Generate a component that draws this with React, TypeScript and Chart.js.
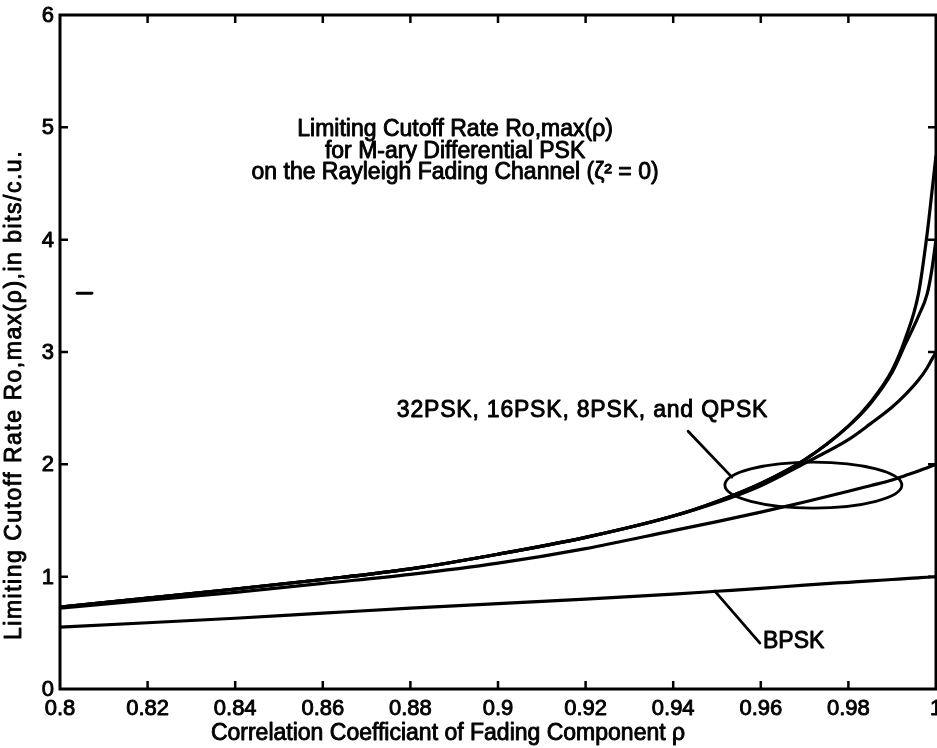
import React, { useEffect, useRef } from "react";
import { Chart, registerables } from "chart.js";

Chart.register(...registerables);

// ---------------- data ----------------
const rho = [0.8, 0.82, 0.84, 0.86, 0.88, 0.9, 0.92, 0.94, 0.95, 0.96, 0.97, 0.98, 0.985, 0.99, 0.993, 0.996, 0.998, 0.999, 1.0];

const bpsk = [0.55, 0.59, 0.63, 0.675, 0.72, 0.76, 0.8, 0.845, 0.87, 0.895, 0.925, 0.95, 0.962, 0.975, 0.982, 0.99, 0.995, 0.997, 1.0];
const qpsk = [0.72, 0.79, 0.86, 0.94, 1.02, 1.12, 1.25, 1.41, 1.49, 1.575, 1.665, 1.76, 1.81, 1.86, 1.9, 1.94, 1.97, 1.985, 2.0];
const psk8 = [0.73, 0.81, 0.89, 0.975, 1.07, 1.2, 1.35, 1.54, 1.66, 1.81, 2.01, 2.22, 2.36, 2.51, 2.62, 2.75, 2.86, 2.93, 3.0];
const psk16 = [0.73, 0.81, 0.89, 0.975, 1.07, 1.2, 1.35, 1.54, 1.67, 1.83, 2.04, 2.34, 2.54, 2.82, 3.07, 3.32, 3.52, 3.72, 4.0];
const psk32 = [0.73, 0.81, 0.89, 0.975, 1.07, 1.2, 1.35, 1.54, 1.67, 1.83, 2.04, 2.34, 2.55, 2.84, 3.12, 3.52, 4.06, 4.4, 4.75];

const xTickValues = [0.8, 0.82, 0.84, 0.86, 0.88, 0.9, 0.92, 0.94, 0.96, 0.98, 1.0];
const xTickLabels = ["0.8", "0.82", "0.84", "0.86", "0.88", "0.9", "0.92", "0.94", "0.96", "0.98", "1"];
const yTickValues = [0, 1, 2, 3, 4, 5, 6];
const yTickLabels = ["0", "1", "2", "3", "4", "5", "6"];

const titleLines = ["Limiting Cutoff Rate Ro,max(\u03C1)", "for M-ary Differential PSK", "on the Rayleigh Fading Channel (\u03B6\u00B2 = 0)"];
const xTitle = "Correlation Coefficiant of Fading Component \u03C1";
const yTitle = "Limiting Cutoff Rate Ro,max(\u03C1),in bits/c.u.";
const groupLabel = "32PSK, 16PSK, 8PSK, and QPSK";
const bpskLabel = "BPSK";

// annotation anchors (data units)
const ellipseCenter = { x: 0.972, y: 1.815 };
const ellipseRadius = { x: 0.0202, y: 0.205 };
const groupPointer = [{ x: 0.9434, y: 2.295 }, { x: 0.9534, y: 1.886 }];
const bpskPointer = [{ x: 0.9495, y: 0.872 }, { x: 0.9598, y: 0.409 }];
const strayMark = [{ x: 0.8039, y: 3.523 }, { x: 0.8073, y: 3.523 }];
const groupLabelAnchor = { x: 0.9617, y: 2.42 };
const bpskLabelAnchor = { x: 0.9605, y: 0.365 };
const titleAnchor = { x: 0.8902, y: 4.92 };

const FONT = '"Liberation Sans", Arial, Helvetica, sans-serif';

function series(vals: number[]) {
  return rho.map((r, i) => ({ x: r, y: vals[i] }));
}

function txt(ctx: CanvasRenderingContext2D, s: string, x: number, y: number, spacing = 0) {
  (ctx as any).letterSpacing = spacing + "px";
  ctx.fillText(s, x, y);
  ctx.lineWidth = 0.9;
  ctx.lineJoin = "round";
  ctx.strokeText(s, x, y);
  (ctx as any).letterSpacing = "0px";
}

const decor = {
  id: "decor",
  afterDatasetsDraw(chart: any) {
    const { ctx, chartArea: a } = chart;
    const xs = chart.scales.x;
    const ys = chart.scales.y;
    const px = (v: number) => xs.getPixelForValue(v);
    const py = (v: number) => ys.getPixelForValue(v);
    ctx.save();
    ctx.strokeStyle = "#000";
    ctx.fillStyle = "#000";
    ctx.lineCap = "round";

    // ellipse
    ctx.lineWidth = 2.8;
    ctx.beginPath();
    const cx = px(ellipseCenter.x);
    const cy = py(ellipseCenter.y);
    const rx = Math.abs(px(ellipseCenter.x + ellipseRadius.x) - cx);
    const ry = Math.abs(py(ellipseCenter.y + ellipseRadius.y) - cy);
    ctx.ellipse(cx, cy, rx, ry, 0, 0, Math.PI * 2);
    ctx.stroke();

    // pointers
    for (const seg of [groupPointer, bpskPointer, strayMark]) {
      ctx.beginPath();
      ctx.moveTo(px(seg[0].x), py(seg[0].y));
      ctx.lineTo(px(seg[1].x), py(seg[1].y));
      ctx.stroke();
    }

    // box
    ctx.lineCap = "square";
    ctx.lineWidth = 3;
    ctx.strokeRect(a.left, a.top, a.right - a.left, a.bottom - a.top);

    // ticks (inward, all four sides)
    const tl = 8;
    ctx.lineWidth = 2.5;
    ctx.lineCap = "butt";
    xs.ticks.forEach((t: any) => {
      const x = px(t.value);
      if (x <= a.left + 1 || x >= a.right - 1) return;
      ctx.beginPath();
      ctx.moveTo(x, a.bottom);
      ctx.lineTo(x, a.bottom - tl);
      ctx.moveTo(x, a.top);
      ctx.lineTo(x, a.top + tl);
      ctx.stroke();
    });
    ys.ticks.forEach((t: any) => {
      const y = py(t.value);
      if (y <= a.top + 1 || y >= a.bottom - 1) return;
      ctx.beginPath();
      ctx.moveTo(a.left, y);
      ctx.lineTo(a.left + tl, y);
      ctx.moveTo(a.right, y);
      ctx.lineTo(a.right - tl, y);
      ctx.stroke();
    });

    // tick labels
    ctx.font = `22px ${FONT}`;
    ctx.textAlign = "center";
    ctx.textBaseline = "alphabetic";
    xs.ticks.forEach((t: any, i: number) => {
      txt(ctx, xTickLabels[i] ?? String(t.value), px(t.value), a.bottom + 26);
    });
    ctx.textAlign = "right";
    ctx.textBaseline = "middle";
    ys.ticks.forEach((t: any, i: number) => {
      txt(ctx, yTickLabels[i] ?? String(t.value), a.left - 6, py(t.value) + 1);
    });

    // axis titles
    ctx.font = `23px ${FONT}`;
    ctx.textAlign = "center";
    ctx.textBaseline = "alphabetic";
    txt(ctx, xTitle, 448, a.bottom + 51);
    ctx.save();
    ctx.translate(21, 395);
    ctx.rotate(-Math.PI / 2);
    txt(ctx, yTitle, 0, 0, 1.5);
    ctx.restore();

    // plot title
    ctx.textAlign = "center";
    const tx = px(titleAnchor.x);
    const ty = py(titleAnchor.y);
    titleLines.forEach((s, i) => txt(ctx, s, tx, ty + i * 21.5));

    // curve labels
    ctx.textAlign = "right";
    txt(ctx, groupLabel, px(groupLabelAnchor.x), py(groupLabelAnchor.y), 0.8);
    ctx.textAlign = "left";
    txt(ctx, bpskLabel, px(bpskLabelAnchor.x), py(bpskLabelAnchor.y));

    ctx.restore();
  },
};

export default function App() {
  const ref = useRef<HTMLCanvasElement>(null);
  useEffect(() => {
    if (!ref.current) return;
    const mk = (label: string, vals: number[]) => ({
      label,
      data: series(vals),
      borderColor: "#000",
      backgroundColor: "#000",
      borderWidth: 3.2,
      pointRadius: 0,
      fill: false,
      cubicInterpolationMode: "monotone" as const,
    });
    const chart = new Chart(ref.current, {
      type: "line",
      data: {
        datasets: [
          mk("BPSK", bpsk),
          mk("QPSK", qpsk),
          mk("8PSK", psk8),
          mk("16PSK", psk16),
          mk("32PSK", psk32),
        ],
      },
      options: {
        responsive: false,
        animation: false,
        devicePixelRatio: 1,
        layout: { padding: { left: 60, top: 15, right: 1, bottom: 59 } },
        plugins: { legend: { display: false }, tooltip: { enabled: false }, title: { display: false } },
        scales: {
          x: {
            type: "linear",
            display: false,
            min: 0.8,
            max: 1.0,
            afterBuildTicks: (s: any) => {
              s.ticks = xTickValues.map((v) => ({ value: v }));
            },
          },
          y: {
            type: "linear",
            display: false,
            min: 0,
            max: 6,
            afterBuildTicks: (s: any) => {
              s.ticks = yTickValues.map((v) => ({ value: v }));
            },
          },
        },
      },
      plugins: [decor],
    });
    return () => chart.destroy();
  }, []);
  return (
    <div style={{ position: "absolute", left: 0, top: 0, width: 937, height: 748, background: "#fff" }}>
      <canvas ref={ref} width={937} height={748} style={{ display: "block", width: 937, height: 748 }} />
    </div>
  );
}
